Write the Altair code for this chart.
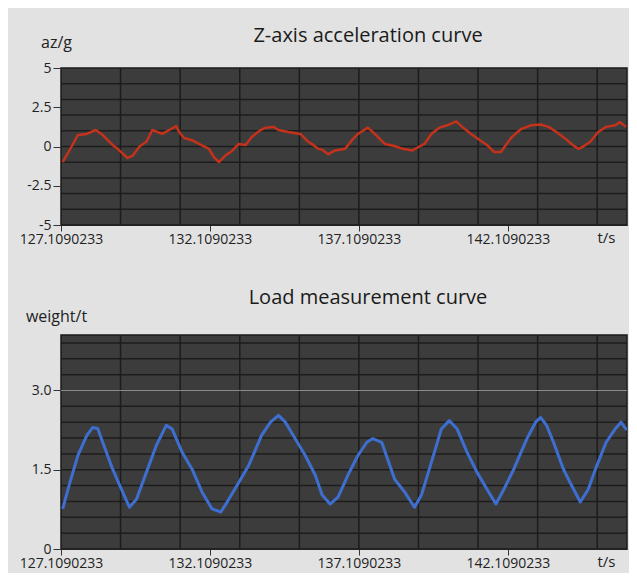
import altair as alt
import pandas as pd

T0 = 127.1090233
T_END = 146.1090233

# Z-axis acceleration (az/g)
acc_t = [127.166, 127.466, 127.676, 127.976, 128.276, 128.509, 128.842, 129.009, 129.342, 129.509,
         129.742, 129.976, 130.176, 130.509, 130.742, 130.976, 131.076, 131.242, 131.509, 131.809,
         132.076, 132.242, 132.409, 132.642, 132.842, 133.076, 133.309, 133.509, 133.809, 133.976,
         134.242, 134.409, 134.742, 135.142, 135.409, 135.576, 135.742, 135.876, 136.076, 136.309,
         136.642, 136.876, 137.076, 137.409, 137.642, 137.976, 138.309, 138.576, 138.909, 139.142,
         139.309, 139.542, 139.809, 140.076, 140.376, 140.576, 140.876, 141.209, 141.409, 141.642,
         141.876, 142.042, 142.242, 142.542, 142.876, 143.209, 143.476, 143.742, 144.042, 144.242,
         144.476, 144.642, 144.876, 145.142, 145.409, 145.709, 145.876, 146.076]
acc_v = [-1.0, 0.0, 0.73, 0.8, 1.05, 0.73, 0.1, -0.15, -0.73, -0.6,
         0.0, 0.3, 1.05, 0.8, 1.05, 1.3, 0.92, 0.54, 0.4, 0.1,
         -0.15, -0.67, -1.0, -0.55, -0.3, 0.16, 0.1, 0.6, 1.05, 1.2,
         1.25, 1.05, 0.92, 0.8, 0.3, 0.1, -0.15, -0.2, -0.5, -0.25,
         -0.15, 0.4, 0.8, 1.2, 0.8, 0.16, 0.03, -0.15, -0.25, 0.0,
         0.16, 0.8, 1.2, 1.35, 1.6, 1.25, 0.8, 0.35, 0.1, -0.35,
         -0.35, 0.1, 0.6, 1.1, 1.35, 1.4, 1.25, 0.92, 0.5, 0.16,
         -0.15, 0.0, 0.3, 0.92, 1.25, 1.35, 1.55, 1.25]

# Load (weight/t)
load_t = [127.166, 127.409, 127.676, 127.976, 128.176, 128.342, 128.509, 128.842, 129.176, 129.409,
          129.642, 129.976, 130.309, 130.642, 130.842, 131.176, 131.509, 131.842, 132.176, 132.476,
          132.742, 133.076, 133.409, 133.842, 134.142, 134.409, 134.642, 134.976, 135.309, 135.642,
          135.876, 136.142, 136.409, 136.742, 137.076, 137.376, 137.576, 137.876, 138.309, 138.642,
          138.976, 139.209, 139.542, 139.876, 140.142, 140.409, 140.742, 141.076, 141.409, 141.709,
          141.976, 142.309, 142.742, 143.042, 143.209, 143.409, 143.642, 143.976, 144.242, 144.542,
          144.809, 145.076, 145.409, 145.709, 145.909, 146.100]
load_v = [0.76, 1.26, 1.77, 2.15, 2.30, 2.28, 2.02, 1.51, 1.08, 0.79,
          0.94, 1.45, 1.96, 2.34, 2.27, 1.83, 1.51, 1.08, 0.76, 0.70,
          0.94, 1.26, 1.58, 2.15, 2.40, 2.53, 2.40, 2.08, 1.77, 1.40,
          1.02, 0.85, 0.98, 1.40, 1.77, 2.02, 2.09, 2.02, 1.32, 1.08,
          0.79, 1.02, 1.64, 2.27, 2.43, 2.27, 1.83, 1.45, 1.13, 0.85,
          1.13, 1.51, 2.08, 2.40, 2.49, 2.34, 2.02, 1.51, 1.21, 0.89,
          1.13, 1.55, 2.02, 2.27, 2.40, 2.25]

x_label_ticks = [127.1090233, 132.1090233, 137.1090233, 142.1090233]
acc_y_ticks = [-5, -2.5, 0, 2.5, 5]
load_y_ticks = [0, 1.5, 3.0]

FONT = "Open Sans"
BG = "#e2e2e2"
PLOT_BG = "#3c3c3c"
GRID = "#1c1c1c"
W = 566

xgrid = pd.DataFrame({"x": [T0 + 2 * k for k in range(1, 10)]})
xscale = alt.Scale(domain=[T0, T_END], nice=False, zero=False)

XAXIS = alt.Axis(values=x_label_ticks, labelExpr="format(datum.value, '.7f')",
                 labelFlush=False, labelOverlap=False,
                 grid=False, tickSize=6, tickColor="#333333", labelPadding=1,
                 labelFont=FONT, labelFontSize=14, labelColor="#222222",
                 domainColor="#222222", title="t/s", titleFont=FONT, titleFontSize=15,
                 titleFontWeight="normal", titleColor="#222222", titleAngle=0,
                 titleX=545, titleY=17, titleAlign="center", titleBaseline="alphabetic")


def panel(t, v, ydomain, ygrid, yticks, ytitle, ytitleY, color, width, title, title_dy, h,
          light_lines=None, label_expr="toString(datum.value)"):
    yscale = alt.Scale(domain=ydomain, nice=False, zero=False)
    YAXIS = alt.Axis(values=yticks, labelExpr=label_expr, grid=False, tickSize=8,
                     tickColor="#333333", labelPadding=2, labelFlush=False,
                     labelFont=FONT, labelFontSize=14, labelColor="#222222",
                     domainColor="#222222", title=ytitle, titleFont=FONT, titleFontSize=16,
                     titleFontWeight="normal", titleColor="#222222", titleAngle=0,
                     titleX=-5, titleY=ytitleY, titleAlign="center",
                     titleBaseline="alphabetic")

    df = pd.DataFrame({"t": t, "v": v})
    line = alt.Chart(df).mark_line(color=color, strokeWidth=width, clip=True,
                                   strokeJoin="round").encode(
        x=alt.X("t:Q", scale=xscale, axis=XAXIS),
        y=alt.Y("v:Q", scale=yscale, axis=YAXIS))
    vrules = alt.Chart(xgrid).mark_rule(color=GRID, strokeWidth=1.5).encode(
        x=alt.X("x:Q", scale=xscale, axis=XAXIS))
    hrules = alt.Chart(pd.DataFrame({"y": ygrid})).mark_rule(color=GRID, strokeWidth=1.5).encode(
        y=alt.Y("y:Q", scale=yscale, axis=YAXIS))
    layers = [vrules, hrules]
    if light_lines:
        layers.append(alt.Chart(pd.DataFrame({"y": light_lines})).mark_rule(
            color="#8a8a8a", strokeWidth=1.2).encode(y=alt.Y("y:Q", scale=yscale, axis=YAXIS)))
    layers.append(line)
    return alt.layer(*layers).properties(
        width=W, height=h,
        title=alt.TitleParams(title, font=FONT, fontSize=20, fontWeight="normal",
                              color="#1a1a1a", anchor="middle", dx=24, offset=0, dy=title_dy))


top = panel(acc_t, acc_v, [-5, 5], [-4, -3, -2, -1, 0, 1, 2, 3, 4], acc_y_ticks, "az/g", -21,
            "#c4321c", 2.5, "Z-axis acceleration curve", 12, 157)
bottom = panel(load_t, load_v, [0, 4.05], [round(0.3 * k, 2) for k in range(1, 14) if k != 10],
               load_y_ticks, "weight/t", -14, "#3e6fd0", 3, "Load measurement curve", 0, 214,
               light_lines=[3.0],
               label_expr="datum.value == 0 ? '0' : format(datum.value, '.1f')")

chart = alt.vconcat(top, bottom, spacing=110, bounds="flush").properties(
    background=BG, padding={"left": 10, "top": 17, "right": 0, "bottom": 2}
).configure_view(fill=PLOT_BG, stroke="#1a1a1a", strokeWidth=1.5)

chart.save("out.html", embed_options={"renderer": "svg", "actions": False})
